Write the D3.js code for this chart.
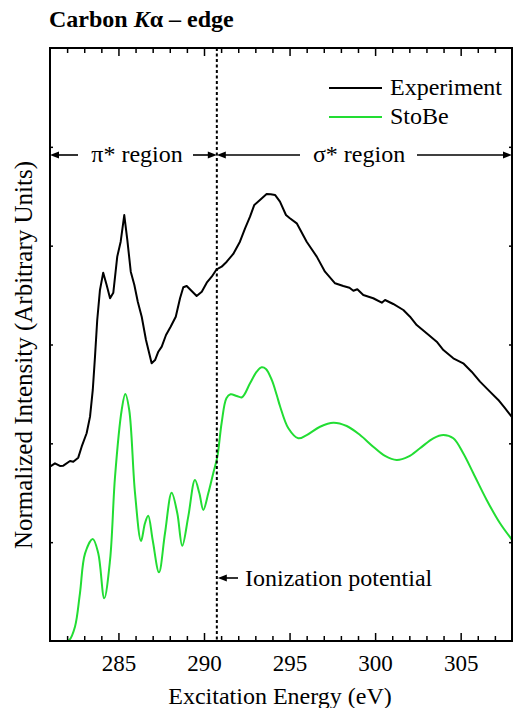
<!DOCTYPE html>
<html><head><meta charset="utf-8">
<script src="https://cdn.jsdelivr.net/npm/d3@7"></script>
</head>
<body style="margin:0;background:#fff"><svg id="c" width="513" height="708"></svg>
<script>
// ---- data ----
const expE = [281.00,281.29,281.58,281.78,282.17,282.36,282.65,282.85,283.14,283.34,283.50,283.63,283.76,283.92,284.11,284.31,284.51,284.70,284.93,285.13,285.34,285.52,285.72,285.93,286.13,286.36,286.61,286.94,287.14,287.33,287.53,287.78,288.05,288.35,288.60,288.79,288.99,289.28,289.57,289.87,290.16,290.45,290.74,291.03,291.33,291.71,292.10,292.40,292.69,292.94,293.27,293.66,293.90,294.15,294.44,294.79,295.00,295.42,296.00,296.59,297.07,297.66,298.14,298.50,298.73,298.96,299.31,299.89,300.39,300.58,301.06,301.65,302.04,302.43,303.01,303.60,303.99,304.57,305.15,305.64,306.13,306.71,307.20,307.59,307.98];
const expI = [1.764,1.798,1.771,1.774,1.821,1.814,1.855,1.966,2.102,2.270,2.540,2.877,3.248,3.552,3.727,3.602,3.468,3.524,3.889,4.040,4.310,4.057,3.737,3.602,3.433,3.281,3.046,2.810,2.843,2.927,2.978,3.096,3.180,3.281,3.468,3.579,3.592,3.541,3.491,3.534,3.625,3.686,3.761,3.787,3.838,3.916,4.040,4.176,4.293,4.412,4.462,4.523,4.520,4.513,4.445,4.310,4.280,4.226,4.040,3.889,3.737,3.619,3.592,3.575,3.544,3.559,3.501,3.468,3.423,3.450,3.410,3.349,3.281,3.197,3.113,3.028,2.944,2.860,2.810,2.725,2.624,2.523,2.439,2.355,2.270];
const stobeE = [282.00,282.13,282.46,282.75,283.05,283.50,283.82,284.17,284.51,284.80,285.19,285.40,285.63,285.97,286.32,286.55,286.74,287.00,287.37,287.72,288.11,288.44,288.73,289.08,289.47,289.73,289.96,290.25,290.54,290.78,291.03,291.31,291.55,291.91,292.22,292.69,293.08,293.37,293.62,293.96,294.25,294.44,294.93,295.51,296.00,296.78,297.56,298.34,299.12,299.89,300.58,301.26,301.94,302.62,303.40,303.99,304.57,305.15,305.74,306.52,307.30,307.98];
const stobeI = [0.000,0.010,0.145,0.483,0.887,1.032,0.887,0.432,0.820,1.662,2.337,2.499,2.337,1.494,1.012,1.191,1.268,1.022,0.695,1.090,1.501,1.292,0.964,1.258,1.629,1.494,1.326,1.494,1.697,1.865,2.206,2.456,2.496,2.479,2.466,2.607,2.725,2.769,2.752,2.641,2.489,2.378,2.152,2.051,2.084,2.168,2.209,2.175,2.084,1.966,1.872,1.831,1.865,1.950,2.051,2.084,2.051,1.899,1.697,1.427,1.191,1.029];
const xMajorTicks = [285,290,295,300,305];
const xMinorTicks = [282,283,284,286,287,288,289,291,292,293,294,296,297,298,299,301,302,303,304,306,307];
const yTicks = [1,2,3,4,5];
const ionizationE = 290.75;
const seriesNames = ["Experiment","StoBe"];
const seriesColors = ["#000000","#22dd33"];

// ---- layout ----
const FONT = '"Liberation Serif", Tinos, "Times New Roman", Times, serif';
const svg = d3.select("#c");
const L=50, R=512, T=48, B=641;
const x = d3.scaleLinear().domain([281,308]).range([L,R]);
const y = d3.scaleLinear().domain([0,6]).range([B,T]);

function txt(xx,yy,s,size){
  return svg.append("text").attr("x",xx).attr("y",yy).style("font-family",FONT).attr("font-size",size).attr("fill","#000").text(s);
}

// curves
svg.append("path").datum(stobeE.map((e,i)=>[e,stobeI[i]]))
  .attr("d", d3.line().x(d=>x(d[0])).y(d=>y(d[1])).curve(d3.curveCatmullRom.alpha(0.5)))
  .attr("fill","none").attr("stroke",seriesColors[1]).attr("stroke-width",2);
svg.append("path").datum(expE.map((e,i)=>[e,expI[i]]))
  .attr("d", d3.line().x(d=>x(d[0])).y(d=>y(d[1])))
  .attr("fill","none").attr("stroke",seriesColors[0]).attr("stroke-width",2).attr("stroke-linejoin","round");

// ionization dashed line
svg.append("line").attr("x1",x(ionizationE)).attr("x2",x(ionizationE)).attr("y1",T).attr("y2",B)
  .attr("stroke","#000").attr("stroke-width",2).attr("stroke-dasharray","3,2.5");

// axes
const axB = svg.append("g").attr("transform",`translate(0,${B})`)
  .call(d3.axisBottom(x).tickValues(xMajorTicks).tickSize(-8).tickPadding(14).tickFormat(d3.format("d")));
const axBm = svg.append("g").attr("transform",`translate(0,${B})`)
  .call(d3.axisBottom(x).tickValues(xMinorTicks).tickSize(-5).tickFormat(""));
const axT = svg.append("g").attr("transform",`translate(0,${T})`)
  .call(d3.axisTop(x).tickValues(xMajorTicks).tickSize(-8).tickFormat(""));
const axTm = svg.append("g").attr("transform",`translate(0,${T})`)
  .call(d3.axisTop(x).tickValues(xMinorTicks).tickSize(-5).tickFormat(""));
const axL = svg.append("g").attr("transform",`translate(${L},0)`)
  .call(d3.axisLeft(y).tickValues(yTicks).tickSize(-3).tickFormat(""));
const axR = svg.append("g").attr("transform",`translate(${R},0)`)
  .call(d3.axisRight(y).tickValues(yTicks).tickSize(-3).tickFormat(""));
[axB,axBm,axT,axTm,axL,axR].forEach(a=>{
  a.attr("font-family",null).attr("font-size",null);
  a.select(".domain").remove();
  a.selectAll(".tick line").attr("stroke","#000").attr("stroke-width",1.5);
  a.selectAll("text").style("font-family",FONT).attr("font-size",23).attr("fill","#000");
});
svg.append("rect").attr("x",L).attr("y",T).attr("width",R-L).attr("height",B-T)
  .attr("fill","none").attr("stroke","#000").attr("stroke-width",2);

// title
const t = txt(49,27,"",24).style("font-weight","bold");
t.append("tspan").text("Carbon ");
t.append("tspan").style("font-style","italic").text("K");
t.append("tspan").text("α – edge");

// axis labels
txt((L+R)/2-1,704,"Excitation Energy (eV)",24).attr("text-anchor","middle");
svg.append("text").attr("transform",`translate(32,355) rotate(-90)`).attr("text-anchor","middle")
  .style("font-family",FONT).attr("font-size",25).text("Normalized Intensity (Arbitrary Units)");

// legend
seriesNames.forEach((n,i)=>{
  const yy = 88 + i*29;
  svg.append("line").attr("x1",329).attr("x2",382).attr("y1",yy).attr("y2",yy).attr("stroke",seriesColors[i]).attr("stroke-width",2);
  txt(390,yy+7,n,24);
});

// arrows (line + filled triangle)
function arrow(x1,x2,yy){
  const dir = x2 > x1 ? 1 : -1;
  svg.append("line").attr("x1",x1).attr("x2",x2-dir*6).attr("y1",yy).attr("y2",yy)
    .attr("stroke","#000").attr("stroke-width",1.6);
  svg.append("path").attr("d",`M${x2},${yy} L${x2-dir*9},${yy-3.5} L${x2-dir*9},${yy+3.5} Z`).attr("fill","#000");
}
const ay = 155;
const xi = x(ionizationE);
arrow(78, L, ay);
arrow(193, xi, ay);
arrow(300, xi, ay);
arrow(417, R, ay);
txt((92+182)/2,ay+7,"π* region",24).attr("text-anchor","middle");
txt((313+405)/2,ay+7,"σ* region",24).attr("text-anchor","middle");

// ionization annotation
arrow(238, xi+1, 578);
txt(245,586,"Ionization potential",24);
</script></body></html>
